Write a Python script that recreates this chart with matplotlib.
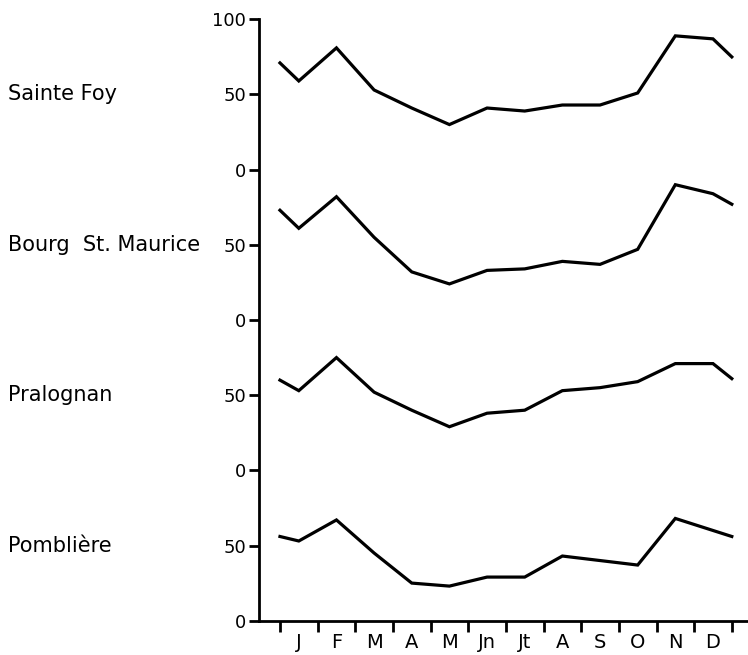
import numpy as np
import matplotlib
matplotlib.use("Agg")
import matplotlib.pyplot as plt
import matplotlib.transforms as mtransforms

plt.rcParams['font.family'] = ['DejaVu Sans']

months = ['J', 'F', 'M', 'A', 'M', 'Jn', 'Jt', 'A', 'S', 'O', 'N', 'D']
stations = ['Sainte Foy', 'Bourg  St. Maurice', 'Pralognan', 'Pomblière']

# value at start of year, 12 monthly values, value at end of year
sainte_foy = [71, 59, 81, 53, 41, 30, 41, 39, 43, 43, 51, 89, 87, 75]
bourg = [73, 61, 82, 55, 32, 24, 33, 34, 39, 37, 47, 90, 84, 77]
pralognan = [60, 53, 75, 52, 40, 29, 38, 40, 53, 55, 59, 71, 71, 61]
pombliere = [56, 53, 67, 45, 25, 23, 29, 29, 43, 40, 37, 68, 60, 56]

series = [sainte_foy, bourg, pralognan, pombliere]
offsets = [300, 200, 100, 0]  # each station gets its own 0-100 band

x = np.concatenate([[0], np.arange(12) + 0.5, [12]])

fig = plt.figure(figsize=(7.48, 6.55), dpi=100)
ax = fig.add_axes([0.3456, 0.0524, 0.6544, 0.9181])

for vals, off in zip(series, offsets):
    ax.plot(x, np.array(vals) + off, color='black', lw=2.3, solid_joinstyle='miter')

ax.set_xlim(-0.57, 12.43)
ax.set_ylim(0, 400)

ax.spines['top'].set_visible(False)
ax.spines['right'].set_visible(False)
ax.spines['left'].set_linewidth(2)
ax.spines['bottom'].set_linewidth(2)

yt = np.arange(0, 401, 50)
ax.set_yticks(yt)
ax.set_yticklabels(['0', '50'] * 4 + ['100'])
ax.tick_params(axis='y', length=7, width=2, pad=2, labelsize=13)

ax.set_xticks(np.arange(13))
ax.set_xticklabels([])
ax.set_xticks(np.arange(12) + 0.5, minor=True)
ax.set_xticklabels(months, minor=True)
ax.tick_params(axis='x', which='major', length=8, width=2)
ax.tick_params(axis='x', which='minor', length=0, pad=9, labelsize=14)

trans = mtransforms.blended_transform_factory(fig.transFigure, ax.transData)
for name, off in zip(stations, offsets):
    ax.text(0.011, off + 50, name, transform=trans, ha='left', va='center',
            fontsize=15)

fig.savefig('out.png', dpi=100)
